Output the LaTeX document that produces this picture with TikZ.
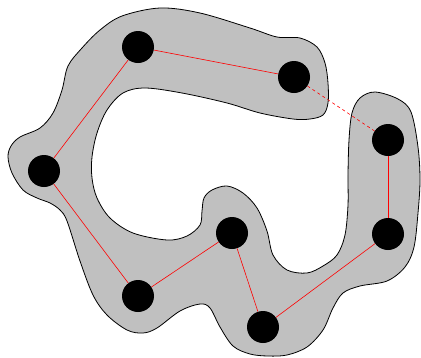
\documentclass[tikz,border=0pt]{standalone}
\usepackage{tikz}
\usetikzlibrary{arrows.meta,positioning}
\definecolor{blobgray}{RGB}{192,192,192}
\tikzset{
  vtx/.style={circle,fill=black,inner sep=0pt,minimum size=32},
  link/.style={draw=red,line width=0.6pt},
  blob/.style={draw=black,fill=blobgray,line width=0.8pt},
}
\begin{document}
\begin{tikzpicture}[x=1pt,y=-1pt,
    arr/.style={link},
  ]
  \useasboundingbox (0,0) rectangle (421,357);

  % region
  \path[blob] plot[smooth cycle,tension=0.55] coordinates {
    (160,8) (200,13) (250,28) (277,37) (300,38) (317,47) (325,63) (328,83)
    (328,103) (323,115) (310,119) (293,119) (260,113) (227,103)
    (182,93) (145,88) (123,93) (107,110) (97,133) (92,157) (92,178) (97,198)
    (110,218) (133,233) (167,240) (187,236) (200,225) (202,211) (204,198)
    (212,190) (227,186) (243,193) (257,208) (267,231) (273,255) (287,270)
    (307,273) (323,266) (337,255) (345,235) (348,205) (348,175) (349,140)
    (352,113) (360,98) (375,92) (398,99) (411,112) (418,147) (420,180)
    (418,213) (414,247) (405,267) (387,281) (360,286) (343,293) (333,308)
    (323,330) (307,347) (287,355) (268,356) (250,354) (233,346) (220,327)
    (210,308) (200,304) (180,311) (157,328) (143,333) (127,330) (107,315)
    (93,295) (80,261) (67,221) (60,210) (50,203) (37,198) (23,190) (12,173)
    (8,157) (11,146) (20,137) (40,128) (53,113) (62,90) (68,66) (82,48)
    (100,30) (122,16)};

  \node[vtx] (v1) at (138,47) {};
  \node[vtx] (v2) at (294,77) {};
  \node[vtx] (v3) at (388,140) {};
  \node[vtx] (v4) at (388,234) {};
  \node[vtx] (v5) at (263,327) {};
  \node[vtx] (v6) at (232,233) {};
  \node[vtx] (v7) at (138,296) {};
  \node[vtx] (v8) at (44,171) {};

  \draw[arr] (v8) -- (v1);
  \draw[arr] (v1) -- (v2);
  \draw[arr,dashed] (v2) -- (v3);
  \draw[arr] (v3) -- (v4);
  \draw[arr] (v4) -- (v5);
  \draw[arr] (v5) -- (v6);
  \draw[arr] (v6) -- (v7);
  \draw[arr] (v7) -- (v8);
\end{tikzpicture}
\end{document}
